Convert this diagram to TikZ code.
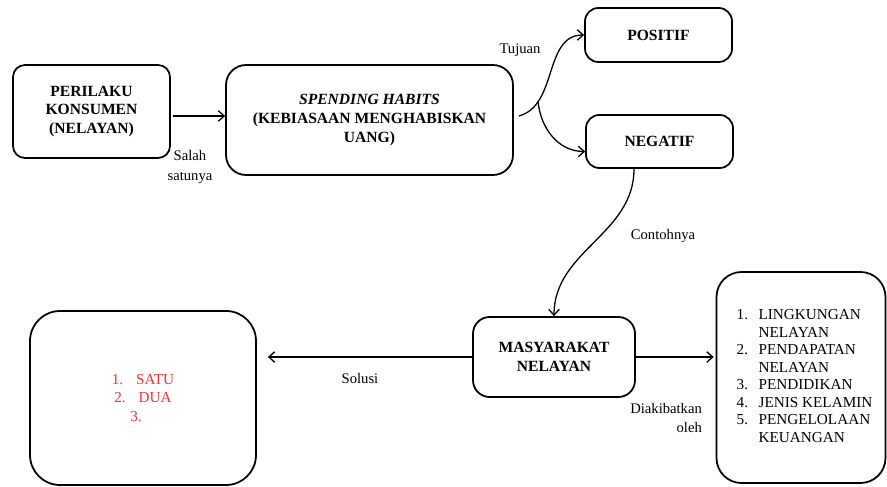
\documentclass[tikz,border=0pt]{standalone}
\usepackage{fontspec}
\setmainfont{Liberation Serif}
\usetikzlibrary{
    arrows.meta,
    positioning,
    calc
}
\usepackage{xcolor}
\definecolor{merahdaftar}{RGB}{255,45,45}

\begin{document}
\begin{tikzpicture}[x=0.3mm, y=0.3mm,
    kotak/.style={draw, line width=1.5pt, rounded corners=4mm, align=center, inner sep=0pt,
        font=\fontsize{13.3}{16}\selectfont\bfseries},
    ket/.style={font=\fontsize{12.5}{16.5}\selectfont, align=center},
    panah/.style={line width=1.1pt, -{Straight Barb[length=5pt,width=9pt]}}]
    \useasboundingbox (0,0) rectangle (887,486);

    % Kotak-kotak utama
    \node[kotak, minimum width=47.1mm, minimum height=27.9mm, rounded corners=3.6mm] (perilaku) at (91.5,374.5) {PERILAKU\\KONSUMEN\\(NELAYAN)};
    \node[kotak, minimum width=86.1mm, minimum height=33mm, rounded corners=6mm] (kebiasaan) at (369.5,366) {\textit{SPENDING HABITS}\\(KEBIASAAN MENGHABISKAN\\UANG)};
    \node[kotak, minimum width=44.1mm, minimum height=16.2mm] (positif) at (658.5,451) {POSITIF};
    \node[kotak, minimum width=44.1mm, minimum height=15.9mm] (negatif) at (659.5,344.5) {NEGATIF};
    \node[kotak, minimum width=48.6mm, minimum height=24mm, rounded corners=5mm] (masyarakat) at (554,129) {MASYARAKAT\\NELAYAN};

    % Kotak solusi dan faktor penyebab
    \node[kotak, minimum width=67.8mm, minimum height=52.2mm, rounded corners=9mm,
        font=\fontsize{13}{16}\selectfont, text=merahdaftar] (solusi) at (143,88) {1.\hspace{11pt}SATU\\2.\hspace{11pt}DUA\\3.\hspace*{12pt}};
    \node[kotak, minimum width=50.7mm, minimum height=63.3mm, rounded corners=7.5mm,
        font=\fontsize{13}{15}\selectfont] (faktor) at (801,108.5) {%
        \hspace*{6pt}\begin{tabular}{@{}l@{\hspace{9pt}}l@{}}
            1. & LINGKUNGAN\\
               & NELAYAN\\
            2. & PENDAPATAN\\
               & NELAYAN\\
            3. & PENDIDIKAN\\
            4. & JENIS KELAMIN\\
            5. & PENGELOLAAN\\
               & KEUANGAN
        \end{tabular}};

    % Keterangan panah
    \node[ket] (lsalah) at (190,319) {Salah\\satunya};
    \node[ket] (ltujuan) at (520,436) {Tujuan};
    \node[ket] (lcontoh) at (663,250) {Contohnya};
    \node[ket] (lsolusi) at (360,108) {Solusi};
    \node[ket, align=right, anchor=east] (lakibat) at (706,68) {Diakibatkan\\oleh};

    % Panah
    \draw[panah] ($(perilaku.east)+(2,-4.5)$) -- ($(perilaku.east -| kebiasaan.west)+(0,-4.5)$);
    \draw[panah] ([shift={(5,4)}]kebiasaan.east) to[out=15, in=180] (positif.west);
    \coordinate (cabang) at (538,385);
    \draw[panah] (cabang) to[out=-85, in=180] ([yshift=-3mm]negatif.west);
    \draw[panah] ([xshift=-7.65mm]negatif.south) to[out=-90, in=90] (masyarakat.north);
    \draw[panah, shorten >=3.3mm] (masyarakat.west) -- (masyarakat.west -| solusi.east);
    \draw[panah, shorten >=0.6mm] (masyarakat.east) -- (masyarakat.east -| faktor.west);

\end{tikzpicture}
\end{document}
